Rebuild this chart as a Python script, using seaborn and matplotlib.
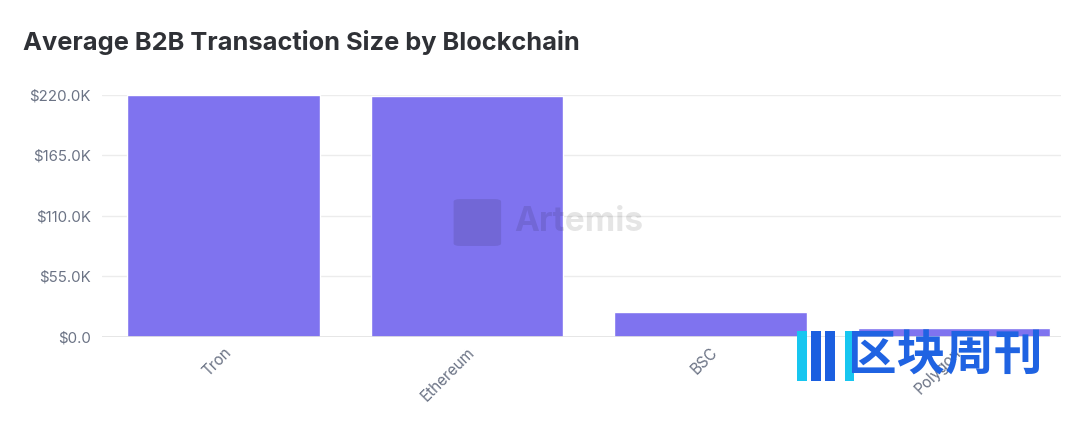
import pandas as pd
import matplotlib.pyplot as plt
import matplotlib.patches as mpatches
from matplotlib.ticker import FuncFormatter
import seaborn as sns

### DATA ###

CHAINS = ["Tron", "Ethereum", "BSC", "Polygon"]
AVG_SIZE = [220000, 219000, 22500, 8000]
Y_TICKS = [0, 55000, 110000, 165000, 220000]

BAR_COLOR = "#7f73ef"
TICK_COLOR = "#6b7385"

df = pd.DataFrame({"chain": CHAINS, "size": AVG_SIZE})

### PLOT ###

sns.set_theme(style="white")
plt.rcParams["font.family"] = ["Inter", "DejaVu Sans"]

fig = plt.figure(figsize=(10.8, 4.3), dpi=100)
ax = fig.add_axes([0.0943, 0.2174, 0.888, 0.5628])

sns.barplot(data=df, x="chain", y="size", color=BAR_COLOR, width=0.79,
            saturation=1, ax=ax, zorder=3)

ax.set_xlim(-0.5, 3.44)
ax.set_ylim(0, 220000)
ax.set_yticks(Y_TICKS)

def money(v, pos):
    if v == 0:
        return "$0.0"
    return f"${v / 1000:.1f}K"

ax.yaxis.set_major_formatter(FuncFormatter(money))
ax.grid(axis="y", color="#ececec", linewidth=1, zorder=0)
ax.axhline(0, color="#e2e2e2", linewidth=1.2, zorder=4)
sns.despine(ax=ax, left=True, bottom=True, top=True, right=True)

ax.set_xlabel("")
ax.set_ylabel("")
ax.tick_params(axis="y", length=0, pad=8, labelsize=10.8, labelcolor=TICK_COLOR)
ax.tick_params(axis="x", length=0, pad=6, labelsize=11, labelcolor=TICK_COLOR)
for lab in ax.get_xticklabels():
    lab.set_rotation(45)
    lab.set_ha("right")
    lab.set_rotation_mode("anchor")

fig.text(0.021, 0.902, "Average B2B Transaction Size by Blockchain",
         fontsize=18.3, fontweight="bold", color="#2f3136", va="center")

# Artemis watermark
fig.patches.append(mpatches.FancyBboxPatch((0.422, 0.43), 0.04, 0.105,
                   boxstyle="round,pad=0.002,rounding_size=0.006",
                   transform=fig.transFigure, facecolor="black",
                   alpha=0.10, edgecolor="none", zorder=10))
fig.text(0.476, 0.483, "Artemis", fontsize=24, fontweight="bold",
         color="black", alpha=0.10, va="center", zorder=10)

# 区块周刊 watermark
for x0, c in [(0.738, "#17c6f0"), (0.751, "#1b5fe0"), (0.764, "#1b5fe0"), (0.782, "#17c6f0")]:
    fig.patches.append(mpatches.Rectangle((x0, 0.115), 0.009, 0.115,
                       transform=fig.transFigure, facecolor=c,
                       edgecolor="none", zorder=10))
fig.text(0.785, 0.172, "区块周刊", fontsize=35, fontweight="bold",
         color="#1f63e2", va="center", zorder=11,
         family=["Noto Sans CJK SC", "DejaVu Sans"])

fig.savefig("out.png", dpi=100, facecolor="white")
